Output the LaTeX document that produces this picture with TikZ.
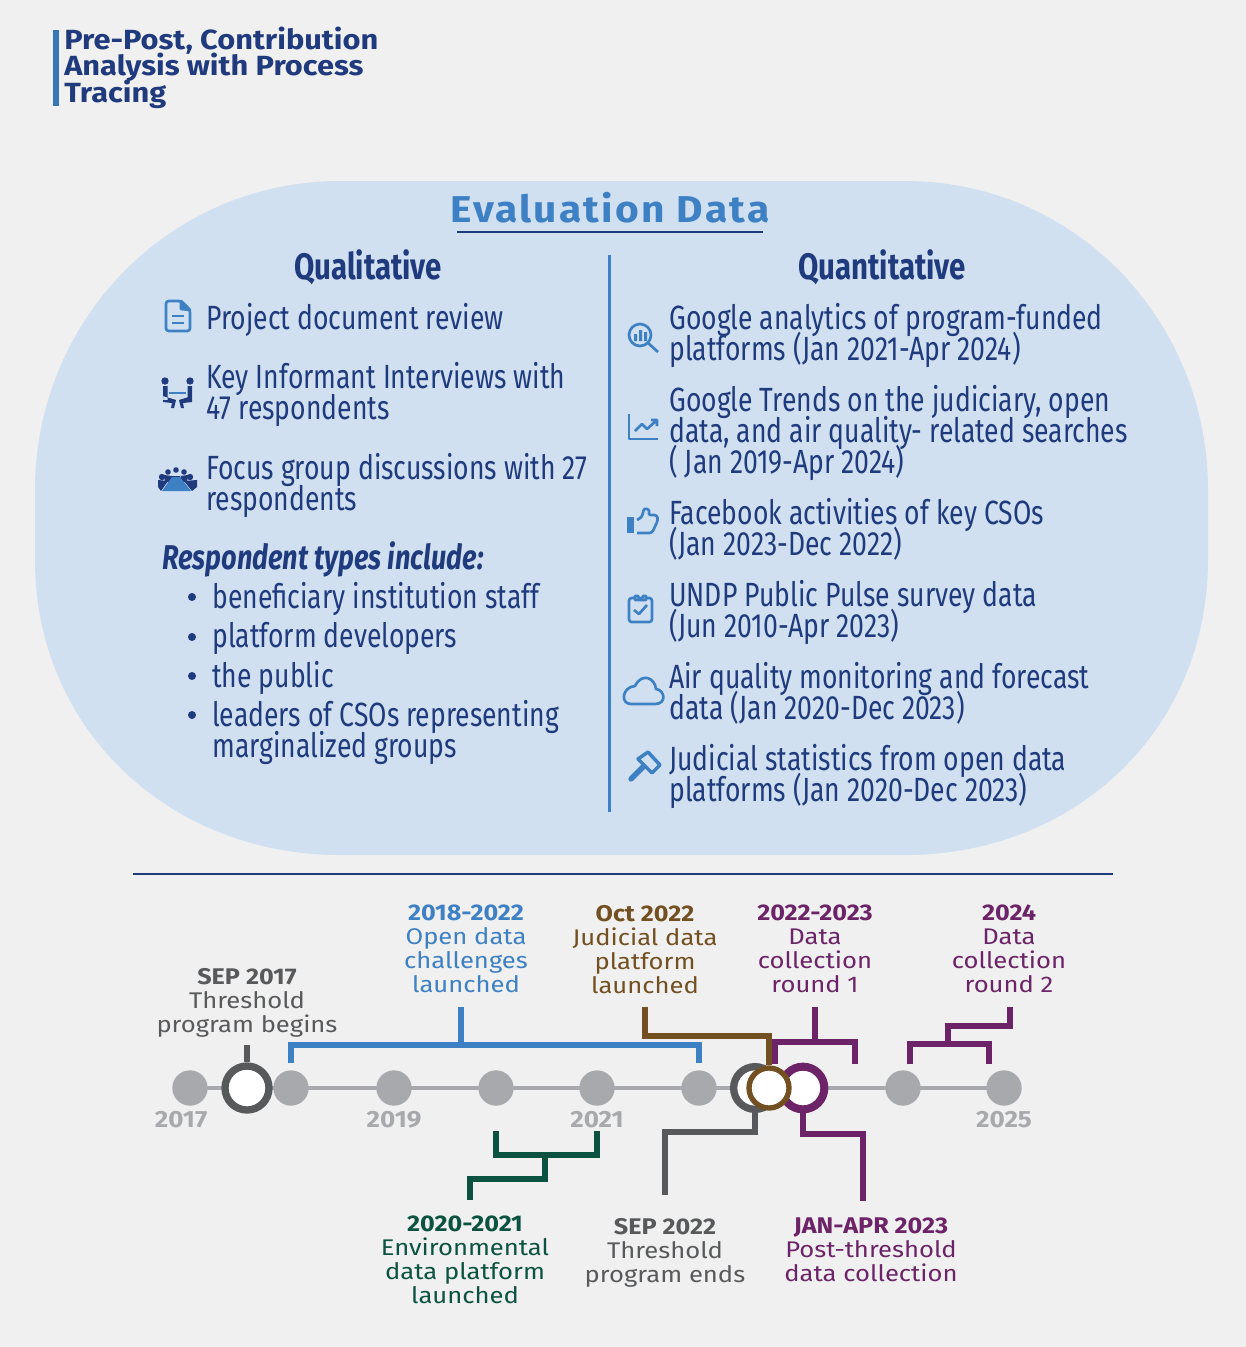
\documentclass[tikz,border=0pt]{standalone}
\usepackage{fontspec}
\usepackage{xcolor}
\usetikzlibrary{calc,positioning}
\setmainfont{Fira Sans}
\newfontfamily\narrowfont[FakeStretch=0.79]{Fira Sans}
\newfontfamily\narrowbold[FakeStretch=0.80]{Fira Sans}
\newfontfamily\widefont[FakeStretch=1.13]{Fira Sans}
\newfontfamily\widebold[FakeStretch=1.11]{Fira Sans}
\newfontfamily\spacedbold[LetterSpace=6,FakeStretch=1.09]{Fira Sans}
\definecolor{paper}{HTML}{F0F0F0}
\definecolor{blob}{HTML}{D0E0F0}
\definecolor{navy}{HTML}{1F3A7D}
\definecolor{midblue}{HTML}{3D80C4}
\definecolor{dotgrey}{HTML}{A7A9AC}
\definecolor{slate}{HTML}{58595B}
\definecolor{plum}{HTML}{6C2368}
\definecolor{umber}{HTML}{735021}
\definecolor{pine}{HTML}{0B5340}
\begin{document}
\begin{tikzpicture}[
	x=0.75pt, y=-0.75pt,
	body/.style = {anchor=north west, inner sep=0, align=left, text=navy,
		font=\narrowfont\fontsize{25.2}{23.25}\selectfont,
		execute at begin node={\lineskiplimit=-30pt\rule{0pt}{18pt}}},
	subhead/.style = {anchor=north, inner sep=0, text=navy,
		font=\narrowbold\bfseries\fontsize{27.6}{23.25}\selectfont,
		execute at begin node=\rule{0pt}{18pt}},
	note/.style = {anchor=north, inner sep=0, align=center,
		font=\widefont\fontsize{17}{18}\selectfont,
		execute at begin node={\lineskiplimit=-30pt\rule{0pt}{13.5pt}}},
	year/.style = {inner sep=0, text=dotgrey, font=\widebold\bfseries\fontsize{17.6}{18}\selectfont},
	dot/.style = {circle, inner sep=0, minimum size=26.5pt, fill=dotgrey},
	ring/.style = {circle, inner sep=0, fill=white, draw=#1},
	wire/.style = {draw=#1, line width=4.2pt, line cap=butt},
	icon/.style = {draw=midblue, line width=2pt, line join=round}
]
\useasboundingbox (0,0) rectangle (1246,1347);
\fill[paper] (0,0) rectangle (1246,1347);

% heading
\fill[midblue!85!navy] (53,30) rectangle (59,106);
\node[anchor=north west, inner sep=0, align=left, text=navy,
	font=\widebold\bfseries\fontsize{20.8}{19.6}\selectfont,
	execute at begin node={\lineskiplimit=-30pt\rule{0pt}{15pt}}] (heading) at (64,27)
	{Pre-Post, Contribution\\Analysis with Process\\Tracing};

% data panel
\fill[blob] (340,181) -- (905,181) .. controls (1075,181) and (1208,320) .. (1208,490)
	-- (1208,560) .. controls (1208,730) and (1075,855) .. (905,855)
	-- (340,855) .. controls (170,855) and (35,730) .. (35,560)
	-- (35,490) .. controls (35,320) and (170,181) .. (340,181) -- cycle;
\node[inner sep=0, text=midblue, font=\spacedbold\bfseries\fontsize{28}{30}\selectfont] (evaldata) at (610,208) {Evaluation Data};
\coordinate (ruleL) at (457,232);
\coordinate (ruleR) at (763,232);
\draw[navy, line width=1.8pt] (ruleL) -- (ruleR);
\coordinate (splitT) at (609.5,255);
\coordinate (splitB) at (609.5,812);
\draw[midblue, line width=2.2pt] (splitT) -- (splitB);
\coordinate (baseL) at (133,874);
\coordinate (baseR) at (1113,874);
\draw[navy, line width=1.8pt] (baseL) -- (baseR);

\node[subhead] (qual) at (368,249) {Qualitative};
\node[subhead] (quant) at (882,249) {Quantitative};

\node[body] (docs) at (206,303) {Project document review};
\node[body] (kii) at (206,362) {Key Informant Interviews with\\47 respondents};
\node[body] (fgd) at (206,453) {Focus group discussions with 27\\respondents};
\node[body, font=\narrowfont\bfseries\itshape\fontsize{25.8}{23.25}\selectfont] (types) at (162,541) {Respondent types include:};
\node[body] (type1) at (212,582) {beneficiary institution staff};
\node[body] (type2) at (212,622) {platform developers};
\node[body] (type3) at (212,661) {the public};
\node[body] (type4) at (212,700) {leaders of CSOs representing\\marginalized groups};
\foreach \y in {597,637,676,715}
	\node[circle, inner sep=0, minimum size=6pt, fill=navy] at (192,\y) {};

\node[body] (gana) at (669,303) {Google analytics of program-funded\\platforms (Jan 2021-Apr 2024)};
\node[body] (gtrends) at (669,385) {Google Trends on the judiciary, open\\data, and air quality- related searches\\( Jan 2019-Apr 2024)};
\node[body] (fb) at (669,498) {Facebook activities of key CSOs\\(Jan 2023-Dec 2022)};
\node[body] (pulse) at (669,580) {UNDP Public Pulse survey data\\(Jun 2010-Apr 2023)};
\node[body] (air) at (669,662) {Air quality monitoring and forecast\\data (Jan 2020-Dec 2023)};
\node[body] (judicial) at (669,744) {Judicial statistics from open data\\platforms (Jan 2020-Dec 2023)};

% icons left
\draw[icon, rounded corners=2pt] (166,301) -- (181,301) -- (190,310) -- (190,331) -- (166,331) -- cycle;
\draw[icon, fill=midblue] (181,301) -- (181,309) -- (190,310) -- cycle;
\draw[icon] (172,316) -- (184,316) (172,323) -- (184,323);

\fill[navy] (165,381) circle (3.7) (190,381) circle (3.7);
\fill[navy] (163,386) rectangle (167.5,400) (163,396) -- (176,400) -- (174,408) -- (171,408) -- (172,403) -- (163,402) -- cycle;
\fill[navy] (187.5,386) rectangle (192,400) (192,396) -- (179,400) -- (181,408) -- (184,408) -- (183,403) -- (192,402) -- cycle;
\draw[midblue, line width=2.2pt] (169,393) -- (186,393);

\fill[navy] (176,470) circle (2.8) (168,472) circle (2.8) (184,472) circle (2.8) (162,477) circle (3.2) (190,477) circle (3.2);
\fill[navy] (171,476) -- (181,476) -- (181,482) -- (171,482) -- cycle (164,475) -- (172,476) -- (170,482) -- (165,482) -- cycle (188,475) -- (180,476) -- (182,482) -- (187,482) -- cycle;
\fill[navy] (158,480) -- (168,481) -- (161,491) -- (158,487) -- cycle;
\fill[navy] (197,480) -- (184,481) -- (192,491) -- (197,487) -- cycle;
\fill[midblue] (172,477) -- (180,477) -- (191,491) -- (162,491) -- cycle;

% icons right
\draw[icon] (640,335) circle (11);
\draw[icon] (648,343) -- (658,352);
\fill[midblue] (634,334) rectangle (637,341) (639,330) rectangle (642,341) (644,332) rectangle (647,341);

\draw[icon] (629,414) -- (629,439) -- (658,439);
\draw[icon] (635,431) -- (642,424) -- (647,429) -- (657,420) (651,420) -- (657,420) -- (657,426);

\fill[midblue] (627,517) rectangle (634,533);
\draw[icon, rounded corners=2pt] (637,533) -- (652,533) -- (658,520) -- (657,515) -- (648,515) -- (650,510) -- (644,508) -- (642,517) -- (637,520);

\draw[icon, rounded corners=2pt] (635,598) -- (629,598) -- (629,622) -- (652,622) -- (652,598) -- (646,598);
\draw[icon, fill=blob] (635,600) -- (635,596) -- (638,596) arc (180:0:2.5) -- (646,596) -- (646,600) -- cycle;
\draw[icon] (634,610) -- (639,614) -- (647,605);

\draw[icon] (631,704) -- (655,704) .. controls (667,704) and (665,690) .. (656,689)
	.. controls (655,678) and (642,672) .. (635,686) .. controls (622,687) and (620,704) .. (631,704) -- cycle;

\draw[midblue, line width=4pt, line cap=round] (631,779) -- (643,767);
\draw[icon, line width=2.6pt] (638,759) -- (648,752) -- (660,765) -- (652,773) -- cycle;

% timeline
\coordinate (axisL) at (173,1088);
\coordinate (axisR) at (1020,1088);
\draw[dotgrey, line width=3.4pt] (axisL) -- (axisR);
\foreach \name/\x in {d17/190,d18/291,d19/394,d20/496,d21/597,d22/699,d23/903,d25/1004}
	\node[dot] (\name) at (\x,1088) {};
\node[ring=slate, minimum size=33pt, line width=5.5pt] (start) at (247,1088) {};
\node[ring=slate, minimum size=32pt, line width=5.5pt] (stop) at (755,1088) {};
\node[ring=plum, minimum size=32pt, line width=6pt] (post) at (803,1088) {};
\node[ring=umber, minimum size=30pt, line width=4pt] (court) at (769,1088) {};

\node[year, anchor=center] (y17) at (181,1120) {2017};
\node[year, anchor=center] (y19) at (394,1120) {2019};
\node[year, anchor=center] (y21) at (597,1120) {2021};
\node[year, anchor=center] (y25) at (1004,1120) {2025};

% notes
\node[note, text=slate] (nstart) at (247,968) {{\widebold\bfseries SEP 2017}\\Threshold\\program begins};
\node[note, text=midblue] (nopen) at (466,905) {{\widebold\bfseries 2018-2022}\\Open data\\challenges\\launched};
\node[note, text=umber] (ncourt) at (645,905) {{\widebold\bfseries Oct 2022}\\Judicial data\\platform\\launched};
\node[note, text=plum] (nround1) at (815,905) {{\widebold\bfseries 2022-2023}\\Data\\collection\\round 1};
\node[note, text=plum] (nround2) at (1009,905) {{\widebold\bfseries 2024}\\Data\\collection\\round 2};
\node[note, text=pine] (nenv) at (465,1216) {{\widebold\bfseries 2020-2021}\\Environmental\\data platform\\launched};
\node[note, text=slate] (nstop) at (665,1218) {{\widebold\bfseries SEP 2022}\\Threshold\\program ends};
\node[note, text=plum] (npost) at (871,1218) {{\widebold\bfseries JAN-APR 2023}\\Post-threshold\\data collection};

% connectors
\coordinate (startT) at (247,1045);
\draw[wire=slate] (startT) -- (start.north);

\coordinate (openT) at (461,1007);
\coordinate (openJ) at (461,1045);
\draw[wire=midblue] (openT) -- (openJ);
\draw[wire=midblue, shorten <=5pt, shorten >=5pt] (d18.north) |- (openJ) -| (d22.north);

\coordinate (courtT) at (645,1007);
\coordinate (courtJ) at (769,1036);
\draw[wire=umber] (courtT) |- (courtJ) -- (court.north);

\coordinate (r1T) at (815,1007);
\coordinate (r1J) at (815,1042);
\coordinate (r1L) at (775,1064);
\coordinate (r1R) at (855,1064);
\draw[wire=plum] (r1T) -- (r1J);
\draw[wire=plum] (r1L) |- (r1J) -| (r1R);

\coordinate (r2T) at (1010,1007);
\coordinate (r2J) at (948,1044);
\coordinate (r2L) at (910,1064);
\coordinate (r2R) at (989,1064);
\draw[wire=plum] (r2T) -- (1010,1026) -| (r2J);
\draw[wire=plum] (r2L) |- (r2J) -| (r2R);

\coordinate (envB) at (470,1200);
\coordinate (envJ) at (545,1155);
\draw[wire=pine, shorten <=19pt, shorten >=19pt] (d20.south) |- (envJ) -| (d21.south);
\draw[wire=pine] (envJ) -- (545,1179) -| (envB);

\coordinate (stopB) at (665,1195);
\draw[wire=slate] (stop.south) |- (710,1132) -| (stopB);

\coordinate (postB) at (863,1201);
\draw[wire=plum] (post.south) |- (830,1134) -| (postB);
\end{tikzpicture}
\end{document}
